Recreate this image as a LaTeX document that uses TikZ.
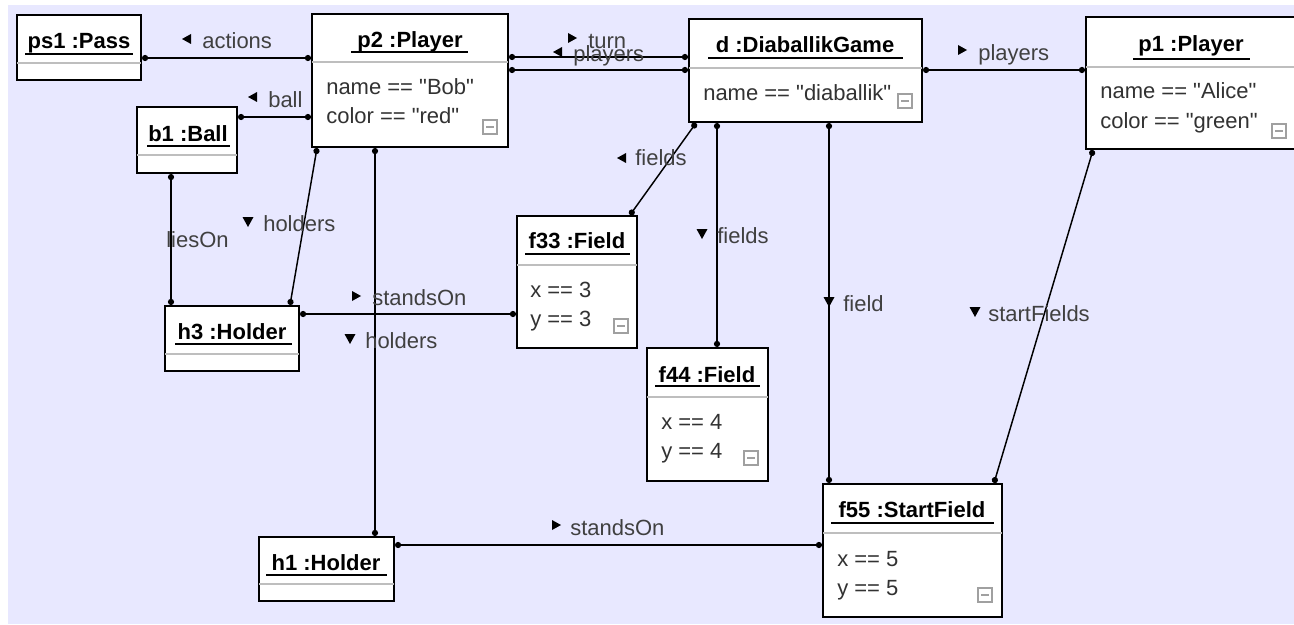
\documentclass[tikz,border=0pt]{standalone}
\usepackage{fontspec}
\setmainfont{Liberation Sans}[Ligatures=TeXOff]
\usetikzlibrary{fit,arrows.meta}
\definecolor{bgc}{RGB}{232,232,255}
\definecolor{attrc}{RGB}{50,50,50}
\definecolor{lblc}{RGB}{64,64,64}
\definecolor{sepc}{RGB}{190,190,190}
\definecolor{iconc}{RGB}{160,160,160}
\newcommand\arrR[2]{\fill[black] (#1,#2-5) -- (#1+9,#2) -- (#1,#2+5) -- cycle;}
\newcommand\arrL[2]{\fill[black] (#1+9,#2-5) -- (#1,#2) -- (#1+9,#2+5) -- cycle;}
\newcommand\arrD[2]{\fill[black] (#1-5.5,#2) -- (#1+5.5,#2) -- (#1,#2+10) -- cycle;}
\newcommand\colicon[2]{\draw[icon] (#1,#2) rectangle (#1+14,#2+14); \draw[icon] (#1+3,#2+7) -- (#1+11,#2+7);}
\begin{document}
\begin{tikzpicture}[x=0.75pt,y=-0.75pt,
  font=\fontsize{16.5}{20}\selectfont,
  obj/.style={draw=black, line width=1.5pt, fill=white, inner sep=0pt},
  ttl/.style={font=\fontsize{16.5}{20}\selectfont\bfseries, text=black, inner sep=0pt, anchor=base},
  attr/.style={text=attrc, inner sep=0pt, anchor=base west},
  lbl/.style={text=lblc, inner sep=0pt, anchor=base west},
  sep/.style={draw=sepc, line width=1.5pt},
  ul/.style={draw=black, line width=1.4pt},
  icon/.style={draw=iconc, line width=0.8pt},
  conn/.style={draw=black, line width=1.1pt, {Circle[length=4.6pt]}-{Circle[length=4.6pt]}}]
\fill[white] (0,0) rectangle (1294,624);
\useasboundingbox (0,0) rectangle (1294,624);
\clip (0,0) rectangle (1294,624);
\fill[bgc] (8,5) rectangle (1294,624);

% ps1
\node[obj, fit={(17,15) (141,80)}] (ps1) {};
\draw[sep] (17,63) -- (141,63);
\node[ttl] (ps1t) at (79,49) {ps1 :Pass};
\draw[ul] (25,54) -- (133,54);

% p2
\node[obj, fit={(312,14) (508,147)}] (p2) {};
\draw[sep] (312,62) -- (508,62);
\node[ttl] (p2t) at (410,48) {p2 :Player};
\draw[ul] (351,52) -- (468,52);
\node[attr] (p2a) at (326,95) {name == "Bob"};
\node[attr] (p2b) at (326,124) {color == "red"};
\colicon{483}{120}

% b1
\node[obj, fit={(137,107) (237,173)}] (b1) {};
\draw[sep] (137,155) -- (237,155);
\node[ttl] (b1t) at (188,142) {b1 :Ball};
\draw[ul] (147,146) -- (230,146);

% d
\node[obj, fit={(689,19) (922,122)}] (d) {};
\draw[sep] (689,68) -- (922,68);
\node[ttl] (dt) at (805,53) {d :DiaballikGame};
\draw[ul] (708,58) -- (903,58);
\node[attr] (da) at (703,101) {name == "diaballik"};
\colicon{898}{94}

% p1
\node[obj, fit={(1086,17) (1320,149)}] (p1) {};
\draw[sep] (1086,67) -- (1320,67);
\node[ttl] (p1t) at (1191,52) {p1 :Player};
\draw[ul] (1133,59) -- (1250,59);
\node[attr] (p1a) at (1100,99) {name == "Alice"};
\node[attr] (p1b) at (1100,129) {color == "green"};
\colicon{1272}{124}

% f33
\node[obj, fit={(517,216) (637,348)}] (f33) {};
\draw[sep] (517,265) -- (637,265);
\node[ttl] (f33t) at (577,248) {f33 :Field};
\draw[ul] (525,254) -- (630,254);
\node[attr] (f33a) at (530,297) {x == 3};
\node[attr] (f33b) at (530,326) {y == 3};
\colicon{614}{319}

% f44
\node[obj, fit={(647,348) (768,481)}] (f44) {};
\draw[sep] (647,397) -- (768,397);
\node[ttl] (f44t) at (707,382) {f44 :Field};
\draw[ul] (655,386) -- (760,386);
\node[attr] (f44a) at (661,429) {x == 4};
\node[attr] (f44b) at (661,458) {y == 4};
\colicon{744}{451}

% f55
\node[obj, fit={(823,484) (1002,617)}] (f55) {};
\draw[sep] (823,533) -- (1002,533);
\node[ttl] (f55t) at (912,517) {f55 :StartField};
\draw[ul] (831,523) -- (994,523);
\node[attr] (f55a) at (837,566) {x == 5};
\node[attr] (f55b) at (837,595) {y == 5};
\colicon{978}{588}

% h3
\node[obj, fit={(165,306) (299,371)}] (h3) {};
\draw[sep] (165,354) -- (299,354);
\node[ttl] (h3t) at (232,339) {h3 :Holder};
\draw[ul] (175,344) -- (292,344);

% h1
\node[obj, fit={(259,537) (394,601)}] (h1) {};
\draw[sep] (259,584) -- (394,584);
\node[ttl] (h1t) at (326,570) {h1 :Holder};
\draw[ul] (266,575) -- (387,575);

% connectors
\draw[conn] (ps1.east |- 0,58) -- (p2.west |- 0,58);
\draw[conn] (b1.east |- 0,117) -- (p2.west |- 0,117);
\draw[conn] (p2.east |- 0,57) -- (d.west |- 0,57);
\draw[conn] (p2.east |- 0,70) -- (d.west |- 0,70);
\draw[conn] (d.east |- 0,70) -- (p1.west |- 0,70);
\draw[conn] (d.south -| 696,0) -- (f33.north -| 630,0);
\draw[conn] (d.south -| 717,0) -- (f44.north -| 717,0);
\draw[conn] (d.south -| 829,0) -- (f55.north -| 829,0);
\draw[conn] (p1.south -| 1093,0) -- (f55.north -| 994,0);
\draw[conn] (p2.south -| 317,0) -- (h3.north -| 290,0);
\draw[conn] (p2.south -| 375,0) -- (h1.north -| 375,0);
\draw[conn] (b1.south -| 171,0) -- (h3.north -| 171,0);
\draw[conn] (h3.east |- 0,314) -- (f33.west |- 0,314);
\draw[conn] (h1.east |- 0,545) -- (f55.west |- 0,545);

% labels
\arrL{182}{39}  \node[lbl] (l1) at (202,49) {actions};
\arrL{248}{97}  \node[lbl] (l2) at (268,108) {ball};
\arrR{568}{38}  \node[lbl] (l3) at (588,49) {turn};
\arrL{553}{52}  \node[lbl] (l4) at (573,62) {players};
\arrR{958}{50}  \node[lbl] (l5) at (978,61) {players};
\arrL{617}{158} \node[lbl] (l6) at (635,166) {fields};
\arrD{702}{229} \node[lbl] (l7) at (717,243) {fields};
\arrD{829}{297} \node[lbl] (l8) at (843,311) {field};
\arrD{975}{307} \node[lbl] (l9) at (988,321) {startFields};
\arrD{248}{217} \node[lbl] (l10) at (263,231) {holders};
\arrD{350}{334} \node[lbl] (l11) at (365,348) {holders};
\node[lbl] (l12) at (166,247) {liesOn};
\arrR{352}{296} \node[lbl] (l13) at (372,305) {standsOn};
\arrR{552}{525} \node[lbl] (l14) at (570,535) {standsOn};
\end{tikzpicture}
\end{document}
